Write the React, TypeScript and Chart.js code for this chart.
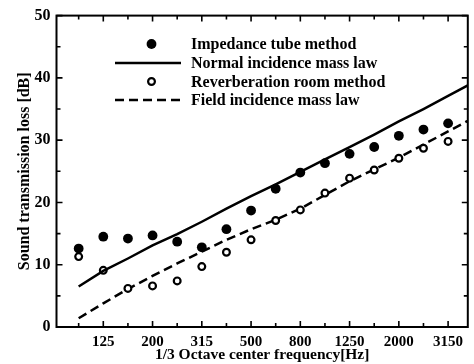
import React, { useEffect, useRef } from "react";
import { Chart, registerables } from "chart.js";

Chart.register(...registerables);

const bands = ["100", "125", "160", "200", "250", "315", "400", "500", "630", "800", "1000", "1250", "1600", "2000", "2500", "3150"];
const labeledBands = ["125", "200", "315", "500", "800", "1250", "2000", "3150"];
const impedanceTube = [12.6, 14.5, 14.2, 14.7, 13.7, 12.8, 15.7, 18.7, 22.2, 24.8, 26.3, 27.8, 28.9, 30.7, 31.7, 32.7];
const reverbRoom = [11.3, 9.1, 6.2, 6.6, 7.4, 9.7, 12.0, 14.0, 17.1, 18.8, 21.5, 23.9, 25.2, 27.1, 28.7, 29.8];
const normalMassLaw = [6.5, 9.0, 11.0, 13.1, 14.9, 16.9, 19.0, 21.0, 22.9, 24.9, 26.9, 28.9, 30.9, 33.0, 35.0, 37.1];
const normalMassLawEdge = 38.8;
const fieldMassLaw = [1.4, 3.8, 6.1, 8.2, 10.2, 12.1, 14.0, 15.7, 17.2, 19.0, 21.2, 23.4, 25.3, 27.2, 29.3, 31.4];
const fieldMassLawEdge = 33.1;
const legendLabels = ["Impedance tube method", "Normal incidence mass law", "Reverberation room method", "Field incidence mass law"];
const yTitle = "Sound transmission loss [dB]";
const xTitle = "1/3 Octave center frequency[Hz]";

const X_MIN = -0.9;
const X_MAX = 15.8;
const FONT = "'Liberation Serif', 'Times New Roman', serif";

const pts = (vals: number[]) => vals.map((v, i) => ({ x: i, y: v }));

const framePlugin = {
  id: "frameTicks",
  afterDraw(chart: any) {
    const { ctx, chartArea: a, scales } = chart;
    const xs = scales.x;
    const ys = scales.y;
    ctx.save();
    ctx.strokeStyle = "#000";
    ctx.lineWidth = 2;
    ctx.strokeRect(a.left, a.top, a.right - a.left, a.bottom - a.top);
    ctx.lineWidth = 1.6;
    ctx.beginPath();
    for (let v = 0; v <= 50; v += 5) {
      const py = ys.getPixelForValue(v);
      const len = v % 10 === 0 ? 6 : 4;
      ctx.moveTo(a.left, py);
      ctx.lineTo(a.left + len, py);
      ctx.moveTo(a.right, py);
      ctx.lineTo(a.right - len, py);
    }
    bands.forEach((b, i) => {
      const px = xs.getPixelForValue(i);
      const len = labeledBands.includes(b) ? 6 : 4;
      ctx.moveTo(px, a.bottom);
      ctx.lineTo(px, a.bottom - len);
      ctx.moveTo(px, a.top);
      ctx.lineTo(px, a.top + len);
    });
    ctx.stroke();

    // legend
    const rows = [44, 63, 81.5, 100];
    const mx = 151.5;
    ctx.font = `bold 16px ${FONT}`;
    ctx.fillStyle = "#000";
    ctx.textBaseline = "middle";
    ctx.textAlign = "left";
    chart.data.datasets.forEach((ds: any, i: number) => {
      const y = rows[i];
      ctx.save();
      if (ds.showLine) {
        ctx.lineWidth = ds.borderWidth;
        ctx.setLineDash(ds.borderDash || []);
        ctx.beginPath();
        ctx.moveTo(115, y);
        ctx.lineTo(181, y);
        ctx.stroke();
      } else {
        ctx.beginPath();
        ctx.arc(mx, y, ds.pointRadius, 0, Math.PI * 2);
        ctx.fillStyle = ds.backgroundColor;
        ctx.fill();
        if (ds.borderWidth > 0) {
          ctx.lineWidth = ds.borderWidth;
          ctx.stroke();
        }
      }
      ctx.restore();
      ctx.fillText(legendLabels[i], 191, y + 1);
    });
    ctx.restore();
  },
};

export default function App() {
  const ref = useRef<HTMLCanvasElement>(null);
  useEffect(() => {
    document.body.style.margin = "0";
    const chart = new Chart(ref.current!, {
      type: "scatter",
      data: {
        datasets: [
          {
            label: legendLabels[0],
            data: pts(impedanceTube),
            pointRadius: 4.9,
            backgroundColor: "#000",
            borderColor: "#000",
            borderWidth: 0,
            showLine: false,
          },
          {
            label: legendLabels[1],
            data: [...pts(normalMassLaw), { x: X_MAX, y: normalMassLawEdge }],
            showLine: true,
            pointRadius: 0,
            borderColor: "#000",
            backgroundColor: "#000",
            borderWidth: 2.5,
          },
          {
            label: legendLabels[2],
            data: pts(reverbRoom),
            pointRadius: 3.4,
            backgroundColor: "#fff",
            borderColor: "#000",
            borderWidth: 2.2,
            showLine: false,
          },
          {
            label: legendLabels[3],
            data: [...pts(fieldMassLaw), { x: X_MAX, y: fieldMassLawEdge }],
            showLine: true,
            pointRadius: 0,
            borderColor: "#000",
            backgroundColor: "#000",
            borderWidth: 2.5,
            borderDash: [9, 5],
          },
        ],
      },
      options: {
        animation: false,
        responsive: false,
        layout: { padding: { top: 14, right: 3, left: 0, bottom: 0 } },
        plugins: { legend: { display: false }, tooltip: { enabled: false } },
        scales: {
          x: {
            type: "linear",
            min: X_MIN,
            max: X_MAX,
            grid: { display: false, drawTicks: false },
            border: { display: false },
            afterBuildTicks: (scale: any) => {
              scale.ticks = bands
                .map((b, i) => ({ value: i, b }))
                .filter((t) => labeledBands.includes(t.b))
                .map((t) => ({ value: t.value }));
            },
            ticks: {
              autoSkip: false,
              maxRotation: 0,
              padding: 6,
              color: "#000",
              font: { family: FONT, size: 15, weight: "bold" },
              callback: (v: any) => bands[v as number],
            },
            afterFit: (scale: any) => {
              scale.height = 37;
            },
            title: {
              display: true,
              text: xTitle,
              color: "#000",
              font: { family: FONT, size: 15.5, weight: "bold", lineHeight: 1.1 },
              padding: { top: 0, bottom: 0 },
            },
          },
          y: {
            min: 0,
            max: 50,
            grid: { display: false, drawTicks: false },
            border: { display: false },
            ticks: {
              stepSize: 10,
              padding: 6,
              color: "#000",
              font: { family: FONT, size: 16, weight: "bold" },
            },
            afterFit: (scale: any) => {
              scale.width = 56.5;
            },
            title: {
              display: true,
              text: yTitle,
              color: "#000",
              font: { family: FONT, size: 16, weight: "bold", lineHeight: 1.2 },
              padding: { top: 15, bottom: 0 },
            },
          },
        },
      },
      plugins: [framePlugin],
    } as any);
    return () => chart.destroy();
  }, []);
  return (
    <div style={{ width: 474, height: 364 }}>
      <canvas ref={ref} width={474} height={364} style={{ display: "block" }} />
    </div>
  );
}
